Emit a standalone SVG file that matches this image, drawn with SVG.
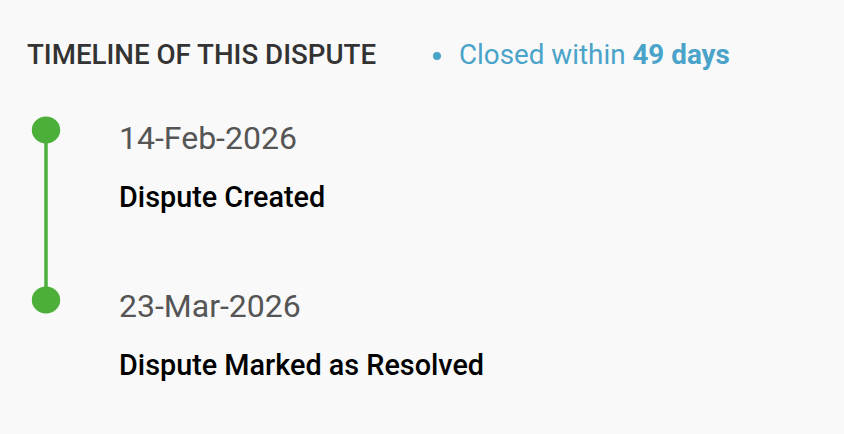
<svg xmlns="http://www.w3.org/2000/svg" width="844" height="434" viewBox="0 0 844 434">
<style>
text{font-family:Roboto,"Liberation Sans",sans-serif}
.title{font-size:27.7px;font-weight:500;fill:#333}
.stat{font-size:27.8px;fill:#4aa3c8}
.date{font-size:32px;fill:#555}
.ev{font-size:28.8px;font-weight:500;fill:#000}
.dot{fill:#4caf3a}
</style>
<rect width="844" height="434" fill="#f9f9f9"/>
<g id="header">
<text class="title" x="27" y="64">TIMELINE OF THIS DISPUTE</text>
<circle cx="437" cy="56" r="4" fill="#4aa3c8"/>
<text class="stat" x="459" y="64">Closed within <tspan font-weight="700">49 days</tspan></text>
</g>
<g id="connectors">
<line x1="46" y1="130" x2="46" y2="300" stroke="#4caf3a" stroke-width="3.5"/>
</g>
<g id="event1">
<ellipse class="dot" cx="46" cy="130" rx="14.2" ry="13.5"/>
<text class="date" x="119" y="149">14-Feb-2026</text>
<text class="ev" x="119" y="207">Dispute Created</text>
</g>
<g id="event2">
<ellipse class="dot" cx="46" cy="300" rx="14.2" ry="13.5"/>
<text class="date" x="119" y="317">23-Mar-2026</text>
<text class="ev" x="119" y="375">Dispute Marked as Resolved</text>
</g>
</svg>
